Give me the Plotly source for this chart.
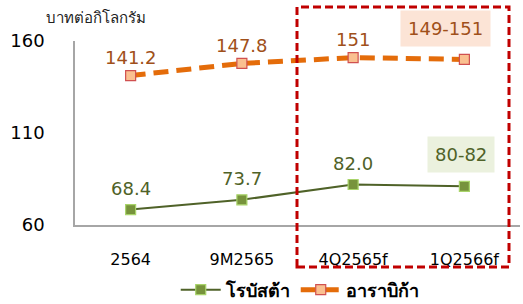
import plotly.graph_objects as go

categories = ["2564", "9M2565", "4Q2565f", "1Q2566f"]
robusta = [68.4, 73.7, 82.0, 81.0]
arabica = [141.2, 147.8, 151.0, 150.0]
robusta_labels = ["68.4", "73.7", "82.0", "80-82"]
arabica_labels = ["141.2", "147.8", "151", "149-151"]
y_ticks = [60, 110, 160]
series_names = ["โรบัสต้า", "อาราบิก้า"]
y_title = "บาทต่อกิโลกรัม"

FONT = "DejaVu Sans, Noto Sans, sans-serif"
GREEN_TXT = "#4F6228"
ORANGE_TXT = "#A0501A"

fig = go.Figure()
fig.add_trace(go.Scatter(
    x=categories, y=robusta, name=series_names[0], mode="lines+markers",
    line=dict(color="#4F6228", width=2),
    marker=dict(symbol="square", size=10, color="#77933C",
                line=dict(color="#A9D46A", width=1.2)),
))
fig.add_trace(go.Scatter(
    x=categories, y=arabica, name=series_names[1], mode="lines+markers",
    line=dict(color="#E46C0A", width=5, dash="15px,8px"),
    marker=dict(symbol="square", size=10, color="#FAC090",
                line=dict(color="#D05050", width=1.2)),
))

annotations = []
n = len(categories)
for i, (c, v, t) in enumerate(zip(categories, robusta, robusta_labels)):
    last = i == n - 1
    annotations.append(dict(
        x=i, y=v, xref="x", yref="y", text=t, showarrow=False,
        yshift=32 if last else 21, xshift=-3 if last else 0,
        font=dict(family=FONT, size=18, color=GREEN_TXT),
        bgcolor="#EBF1DE" if last else None, borderpad=7 if last else 0,
    ))
for i, (c, v, t) in enumerate(zip(categories, arabica, arabica_labels)):
    last = i == n - 1
    annotations.append(dict(
        x=i, y=v, xref="x", yref="y", text=t, showarrow=False,
        yshift=31 if last else 18, xshift=-19 if last else 0,
        font=dict(family=FONT, size=18, color=ORANGE_TXT),
        bgcolor="#FCE4D6" if last else None, borderpad=7 if last else 0,
    ))
annotations.append(dict(
    x=(44 - 75) / 445, y=(225 - 18) / 184, xref="paper", yref="paper",
    text=y_title, showarrow=False, xanchor="left", yanchor="middle",
    font=dict(family=FONT, size=15, color="#222222"),
))

fig.update_layout(
    width=523, height=304,
    margin=dict(l=75, r=3, t=41, b=79, autoexpand=False),
    paper_bgcolor="white", plot_bgcolor="white",
    font=dict(family=FONT, color="black"),
    showlegend=True,
    legend=dict(orientation="h", x=0.505, y=-0.353, xanchor="center", yanchor="middle",
                font=dict(family=FONT, size=18, color="black", weight="bold"),
                itemwidth=40, tracegroupgap=0),
    annotations=annotations,
    shapes=[dict(type="rect", xref="paper", yref="paper",
                 x0=(297 - 75) / 445, x1=(509 - 75) / 445,
                 y0=(225 - 267) / 184, y1=(225 - 7) / 184,
                 line=dict(color="#C00000", width=3, dash="8px,4px"),
                 fillcolor="rgba(0,0,0,0)")],
)
fig.update_xaxes(type="category", range=[-0.5, 3.5], showgrid=False, showline=True,
                 linecolor="#A6A6A6", linewidth=1.5, ticks="", automargin=False,
                 ticklabelstandoff=19,
                 tickfont=dict(family=FONT, size=16, color="black"))
fig.update_yaxes(range=[60, 160], tickvals=y_ticks, showgrid=False, zeroline=False,
                 showline=True, linecolor="#A6A6A6", linewidth=1.5, ticks="",
                 ticklabelstandoff=25, automargin=False,
                 tickfont=dict(family=FONT, size=18, color="black"))

fig.write_html("out.html", config={"displayModeBar": False},
               post_script="document.body.style.margin='0';")
